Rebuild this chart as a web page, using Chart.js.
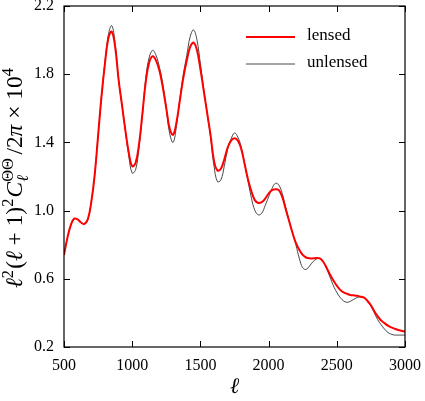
<!DOCTYPE html>
<html>
<head>
<meta charset="utf-8">
<script src="https://cdn.jsdelivr.net/npm/chart.js@4"></script>
<style>
  html, body { margin: 0; padding: 0; background: #fff; }
  #wrap { width: 425px; height: 401px; }
</style>
</head>
<body>
<div id="wrap"><canvas id="clChart" width="425" height="401"></canvas></div>
<script>
const ells = [
  500, 525, 550, 575, 600, 625, 650, 675, 700, 725, 750, 775, 800, 825, 850, 875, 900, 925, 950, 975,
  1000, 1025, 1050, 1075, 1100, 1125, 1150, 1175, 1200, 1225, 1250, 1275, 1300, 1325, 1350, 1375, 1400, 1425, 1450, 1475,
  1500, 1525, 1550, 1575, 1600, 1625, 1650, 1675, 1700, 1725, 1750, 1775, 1800, 1825, 1850, 1875, 1900, 1925, 1950, 1975,
  2000, 2025, 2050, 2075, 2100, 2125, 2150, 2175, 2200, 2225, 2250, 2275, 2300, 2325, 2350, 2375, 2400, 2425, 2450, 2475,
  2500, 2525, 2550, 2575, 2600, 2625, 2650, 2675, 2700, 2725, 2750, 2775, 2800, 2825, 2850, 2875, 2900, 2925, 2950, 2975,
  3000,
];
const unlensed = [
  0.74, 0.84, 0.915, 0.953, 0.948, 0.93, 0.922, 0.95, 1.05, 1.21, 1.44, 1.67, 1.87, 2.03, 2.085, 1.98, 1.77, 1.62, 1.47, 1.32,
  1.22, 1.24, 1.37, 1.56, 1.78, 1.90, 1.94, 1.91, 1.84, 1.74, 1.60, 1.45, 1.40, 1.50, 1.66, 1.80, 1.91, 2.02, 2.06, 2.00,
  1.86, 1.71, 1.57, 1.43, 1.26, 1.17, 1.18, 1.26, 1.36, 1.42, 1.455, 1.43, 1.37, 1.27, 1.17, 1.07, 1.00, 0.975, 0.985, 1.03,
  1.08, 1.13, 1.16, 1.15, 1.10, 1.02, 0.94, 0.87, 0.80, 0.72, 0.665, 0.655, 0.675, 0.70, 0.715, 0.72, 0.70, 0.66, 0.61, 0.56,
  0.52, 0.49, 0.47, 0.462, 0.468, 0.48, 0.49, 0.495, 0.49, 0.47, 0.44, 0.40, 0.36, 0.33, 0.305, 0.285, 0.275, 0.27, 0.27, 0.27,
  0.27,
];
const lensed = [
  0.74, 0.84, 0.915, 0.953, 0.948, 0.93, 0.922, 0.95, 1.05, 1.21, 1.44, 1.67, 1.86, 2.01, 2.05, 1.96, 1.77, 1.62, 1.47, 1.34,
  1.26, 1.28, 1.39, 1.57, 1.76, 1.87, 1.905, 1.88, 1.82, 1.72, 1.60, 1.48, 1.445, 1.52, 1.65, 1.78, 1.88, 1.96, 1.985, 1.94,
  1.83, 1.70, 1.57, 1.44, 1.29, 1.235, 1.245, 1.30, 1.37, 1.41, 1.424, 1.41, 1.36, 1.27, 1.18, 1.11, 1.06, 1.045, 1.05, 1.07,
  1.10, 1.12, 1.125, 1.12, 1.08, 1.01, 0.94, 0.87, 0.81, 0.77, 0.74, 0.725, 0.72, 0.72, 0.722, 0.72, 0.70, 0.665, 0.625, 0.59,
  0.56, 0.535, 0.52, 0.512, 0.505, 0.503, 0.50, 0.495, 0.49, 0.47, 0.445, 0.41, 0.38, 0.355, 0.34, 0.325, 0.315, 0.307, 0.30, 0.295,
  0.29,
];
const xTicks = [500, 1000, 1500, 2000, 2500, 3000];
const yTicks = [0.2, 0.6, 1.0, 1.4, 1.8, 2.2];
const seriesNames = ["lensed", "unlensed"];
const seriesColors = ["#ff0000", "#333333"];
const seriesWidths = [2, 0.9];

const SERIF = "'Liberation Serif', 'DejaVu Serif', serif";

function toPoints(ys) {
  return ells.map((l, i) => ({ x: l, y: ys[i] }));
}

// y axis title pieces: text, size factor (1 = main, 0.7 = script), italic, raise (em)
const yTitle = [
  ["ℓ", 1, true, 0],
  ["2", 0.7, false, 0.4],
  ["(", 1, false, 0, 0.05],
  ["ℓ", 1, true, 0],
  [" + ", 1, false, 0],
  ["1", 1, false, 0],
  [")", 1, false, 0],
  ["2", 0.7, false, 0.4],
  ["C", 1, true, 0, 0.05],
  ["ΘΘ", 0.7, false, 0.4, 0, ["ℓ", 0.7, true, -0.25]],
  ["/", 1, false, 0, 0.15],
  ["2", 1, false, 0],
  ["π", 1, true, 0],
  [" × ", 1, false, 0],
  ["10", 1, false, 0],
  ["4", 0.7, false, 0.4],
];

function fontFor(size, italic) {
  return (italic ? "italic " : "") + size + "px " + SERIF;
}

function layoutTitle(ctx, M, draw) {
  let cx = 0;
  yTitle.forEach((p) => {
    const [t, k, ital, raise, pad, sub] = p;
    cx += (pad || 0) * M;
    ctx.font = fontFor(M * k, ital);
    if (draw) ctx.fillText(t, cx, -raise * M);
    let w = ctx.measureText(t).width;
    if (sub) {
      ctx.font = fontFor(M * sub[1], sub[2]);
      if (draw) ctx.fillText(sub[0], cx, -sub[3] * M);
      w = Math.max(w, ctx.measureText(sub[0]).width);
    }
    cx += w;
  });
  return cx;
}

const framePlugin = {
  id: "frame",
  afterDraw(chart) {
    const ctx = chart.ctx;
    const a = chart.chartArea;
    const xs = chart.scales.x;
    const ys = chart.scales.y;
    ctx.save();
    // box
    ctx.strokeStyle = "#000";
    ctx.lineWidth = 1.2;
    ctx.strokeRect(a.left, a.top, a.right - a.left, a.bottom - a.top);
    // inward ticks on all sides
    ctx.lineWidth = 1;
    const tl = 6;
    ctx.beginPath();
    xTicks.forEach((v) => {
      const px = Math.round(xs.getPixelForValue(v)) + 0.5;
      ctx.moveTo(px, a.bottom);
      ctx.lineTo(px, a.bottom - tl);
      ctx.moveTo(px, a.top);
      ctx.lineTo(px, a.top + tl);
    });
    yTicks.forEach((v) => {
      const py = Math.round(ys.getPixelForValue(v)) + 0.5;
      ctx.moveTo(a.left, py);
      ctx.lineTo(a.left + tl, py);
      ctx.moveTo(a.right, py);
      ctx.lineTo(a.right - tl, py);
    });
    ctx.stroke();

    // legend
    ctx.textBaseline = "middle";
    ctx.textAlign = "left";
    ctx.font = "17px " + SERIF;
    ctx.fillStyle = "#000";
    seriesNames.forEach((name, i) => {
      const y = 37 + i * 27;
      ctx.strokeStyle = seriesColors[i];
      ctx.lineWidth = seriesWidths[i];
      ctx.beginPath();
      ctx.moveTo(246, y);
      ctx.lineTo(295, y);
      ctx.stroke();
      ctx.fillText(name, 307, y - 1);
    });

    // x title
    ctx.textAlign = "center";
    ctx.textBaseline = "alphabetic";
    ctx.font = "italic 22px " + SERIF;
    ctx.fillText("ℓ", (a.left + a.right) / 2, 393);

    // y title, sized so it runs from y=288 up to y=68
    ctx.textAlign = "left";
    const w20 = layoutTitle(ctx, 20, false);
    const M = 20 * 220 / w20;
    ctx.translate(22, 288);
    ctx.rotate(-Math.PI / 2);
    layoutTitle(ctx, M, true);
    ctx.restore();
  },
};

new Chart(document.getElementById("clChart"), {
  type: "line",
  data: {
    datasets: [
      {
        label: "unlensed",
        data: toPoints(unlensed),
        borderColor: seriesColors[1],
        borderWidth: seriesWidths[1],
        pointRadius: 0,
        tension: 0.4,
        fill: false,
        order: 2,
      },
      {
        label: "lensed",
        data: toPoints(lensed),
        borderColor: seriesColors[0],
        borderWidth: seriesWidths[0],
        pointRadius: 0,
        tension: 0.4,
        fill: false,
        order: 1,
      },
    ],
  },
  options: {
    responsive: false,
    animation: false,
    devicePixelRatio: 1,
    layout: { padding: { left: 0, top: 6, right: 20, bottom: 0 } },
    plugins: {
      legend: { display: false },
      tooltip: { enabled: false },
    },
    scales: {
      x: {
        type: "linear",
        min: 500,
        max: 3000,
        afterBuildTicks: (s) => { s.ticks = xTicks.map((v) => ({ value: v })); },
        afterFit: (s) => {
          s.height = 54;
          s.paddingLeft = 0;
          s.paddingRight = 0;
        },
        grid: { display: false, drawTicks: false },
        border: { display: false },
        ticks: {
          color: "#000",
          padding: 9,
          font: { family: SERIF, size: 16 },
          callback: (v) => String(v),
          maxRotation: 0,
        },
      },
      y: {
        type: "linear",
        min: 0.2,
        max: 2.2,
        afterBuildTicks: (s) => { s.ticks = yTicks.map((v) => ({ value: v })); },
        afterFit: (s) => {
          s.width = 64;
          s.paddingTop = 0;
          s.paddingBottom = 0;
        },
        grid: { display: false, drawTicks: false },
        border: { display: false },
        ticks: {
          color: "#000",
          padding: 10,
          font: { family: SERIF, size: 16 },
          callback: (v) => Number(v).toFixed(1),
        },
      },
    },
  },
  plugins: [framePlugin],
});
</script>
</body>
</html>
